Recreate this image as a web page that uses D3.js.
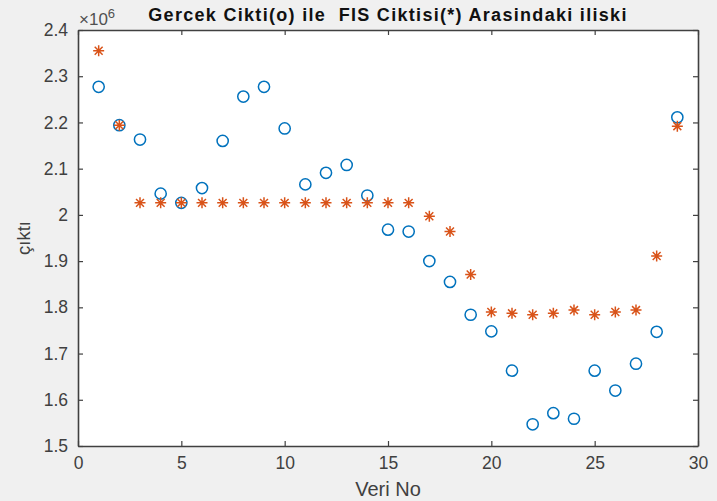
<!DOCTYPE html>
<html>
<head>
<meta charset="utf-8">
<script src="https://cdn.jsdelivr.net/npm/d3@7"></script>
<style>
	body { margin: 0; background: #f0f0f0; }
	svg { display: block; }
	.tick text { font-family: "Liberation Sans", Arial, sans-serif; font-size: 17.5px; fill: #404040; }
	.axis path, .axis line { stroke: #404040; }
</style>
</head>
<body>
<div class="chart"></div>
<script>
// veri no
var veriNo = d3.range(1, 30);

// gercek cikti (o)
var gercek = [2.277, 2.194, 2.163, 2.046, 2.026, 2.058, 2.160, 2.256, 2.277, 2.187,
	2.066, 2.091, 2.108, 2.042, 1.968, 1.964, 1.900, 1.855, 1.784, 1.748,
	1.663, 1.547, 1.571, 1.559, 1.663, 1.620, 1.678, 1.747, 2.211];

// FIS ciktisi (*)
var fis = [2.355, 2.194, 2.026, 2.026, 2.026, 2.026, 2.026, 2.026, 2.026, 2.026,
	2.026, 2.026, 2.026, 2.026, 2.026, 2.026, 1.997, 1.964, 1.871, 1.790,
	1.787, 1.784, 1.787, 1.794, 1.784, 1.790, 1.794, 1.911, 2.192];

var xTicks = [0, 5, 10, 15, 20, 25, 30];
var yTicks = [1.5, 1.6, 1.7, 1.8, 1.9, 2, 2.1, 2.2, 2.3, 2.4];

var W = 717, H = 501;
var margin = { top: 30, right: 19, bottom: 55, left: 78 },
	width = W - margin.left - margin.right,
	height = H - margin.top - margin.bottom;

var svg = d3.select(".chart").append("svg")
	.attr("width", W)
	.attr("height", H);

var g = svg.append("g")
	.attr("transform", "translate(" + margin.left + "," + margin.top + ")");

var x = d3.scaleLinear().domain([0, 30]).range([0, width]),
	y = d3.scaleLinear().domain([1.5, 2.4]).range([height, 0]);

g.append("rect")
	.attr("width", width)
	.attr("height", height)
	.attr("fill", "#fff");

// axes, ticks pointing inward (box on)
g.append("g")
	.attr("class", "axis")
	.attr("transform", "translate(0," + height + ")")
	.call(d3.axisBottom(x).tickValues(xTicks).tickSizeInner(-5).tickSizeOuter(0).tickPadding(11));

g.append("g")
	.attr("class", "axis")
	.call(d3.axisLeft(y).tickValues(yTicks).tickSizeInner(-5).tickSizeOuter(0).tickPadding(10)
		.tickFormat(function (d) { return d3.format("")(+d.toFixed(1)); }));

g.append("g")
	.attr("class", "axis")
	.call(d3.axisTop(x).tickValues(xTicks).tickSizeInner(-5).tickSizeOuter(0).tickFormat(""));

g.append("g")
	.attr("class", "axis")
	.attr("transform", "translate(" + width + ",0)")
	.call(d3.axisRight(y).tickValues(yTicks).tickSizeInner(-5).tickSizeOuter(0).tickFormat(""));

g.selectAll(".axis path").attr("stroke-width", 1.6);
g.selectAll(".axis line").attr("stroke-width", 1.2);

// asterisk marker like matlab '*'
var asterisk = {
	draw: function (context, size) {
		var r = Math.sqrt(size) / 2, d = r * 0.72;
		context.moveTo(-r, 0); context.lineTo(r, 0);
		context.moveTo(0, -r); context.lineTo(0, r);
		context.moveTo(-d, -d); context.lineTo(d, d);
		context.moveTo(-d, d); context.lineTo(d, -d);
	}
};

g.selectAll(".circ")
	.data(gercek)
	.enter().append("circle")
	.attr("class", "circ")
	.attr("cx", function (d, i) { return x(veriNo[i]); })
	.attr("cy", function (d) { return y(d); })
	.attr("r", 5.6)
	.attr("fill", "none")
	.attr("stroke", "#0072bd")
	.attr("stroke-width", 1.5);

g.selectAll(".star")
	.data(fis)
	.enter().append("path")
	.attr("class", "star")
	.attr("transform", function (d, i) { return "translate(" + x(veriNo[i]) + "," + y(d) + ")"; })
	.attr("d", d3.symbol().type(asterisk).size(121))
	.attr("fill", "none")
	.attr("stroke", "#d95319")
	.attr("stroke-width", 1.5);

// labels
svg.append("text")
	.attr("x", margin.left + width / 2)
	.attr("y", 21)
	.attr("text-anchor", "middle")
	.style("white-space", "pre")
	.style("font-family", "Liberation Sans, Arial, sans-serif")
	.style("font-size", "18px")
	.style("letter-spacing", "1.3px")
	.style("font-weight", "bold")
	.attr("fill", "#111")
	.text("Gercek Cikti(o) ile  FIS Ciktisi(*) Arasindaki iliski");

var exp = svg.append("text")
	.attr("x", margin.left + 1)
	.attr("y", 25)
	.style("font-family", "Liberation Sans, Arial, sans-serif")
	.style("font-size", "17px")
	.attr("fill", "#505050");
exp.append("tspan").text("\u00d710");
exp.append("tspan").attr("dy", -7).style("font-size", "13px").text("6");

svg.append("text")
	.attr("x", margin.left + width / 2)
	.attr("y", H - 5)
	.attr("text-anchor", "middle")
	.style("font-family", "Liberation Sans, Arial, sans-serif")
	.style("font-size", "20px")
	.attr("fill", "#404040")
	.text("Veri No");

svg.append("text")
	.attr("transform", "translate(30," + (margin.top + height / 2) + ") rotate(-90)")
	.attr("text-anchor", "middle")
	.style("font-family", "Liberation Sans, Arial, sans-serif")
	.style("font-size", "18.5px")
	.attr("fill", "#404040")
	.text("çıktı");
</script>
</body>
</html>
